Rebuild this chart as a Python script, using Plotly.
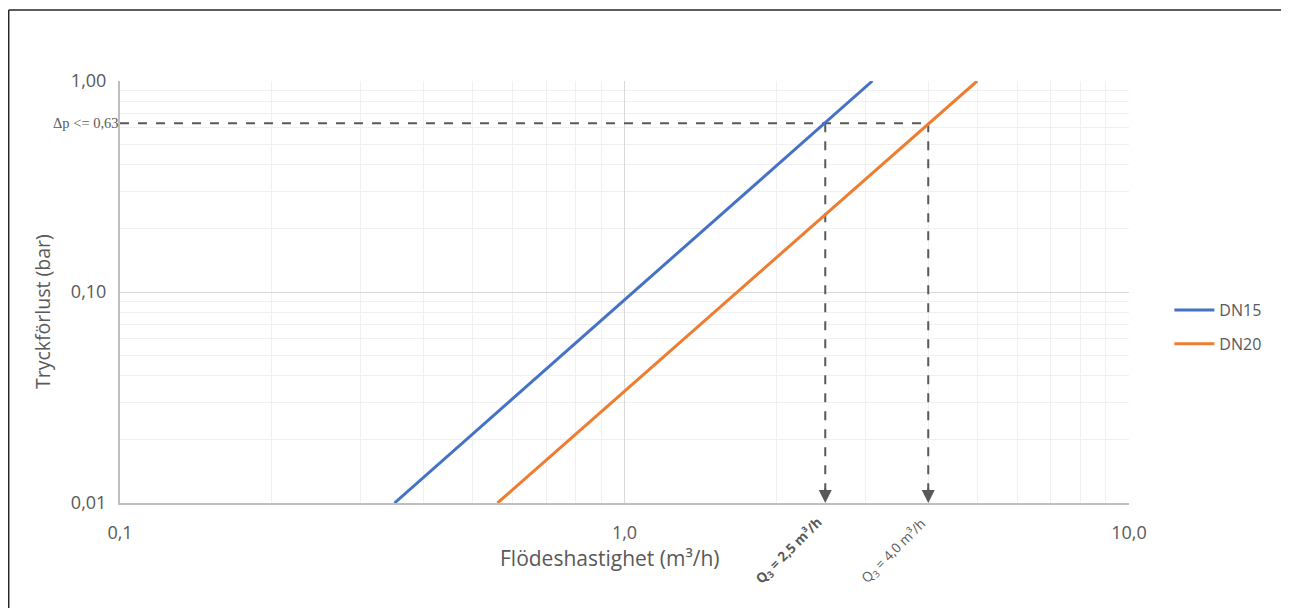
import math
import plotly.graph_objects as go

# Data
dn15_q = [0.35, 2.5, 3.1]
dn15_dp = [0.01, 0.63, 1.0]
dn20_q = [0.56, 4.0, 5.0]
dn20_dp = [0.01, 0.63, 1.0]

q3_values = [2.5, 4.0]
q3_labels = ["<b>Q<sub>3</sub> = 2,5 m³/h</b>", "Q<sub>3</sub> = 4,0 m³/h"]
dp_limit = 0.63
dp_label = "Δp <= 0,63"

x_tickvals = [0.1, 1.0, 10.0]
x_ticktext = ["0,1", "1,0", "10,0"]
y_tickvals = [0.01, 0.1, 1.0]
y_ticktext = ["0,01", "0,10", "1,00"]

x_title = "Flödeshastighet (m³/h)"
y_title = "Tryckförlust (bar)"

grey = "#595959"
font_main = "Open Sans, Noto Sans, sans-serif"

fig = go.Figure()

# reference dashed lines
fig.add_trace(go.Scatter(
    x=[0.1, q3_values[1]], y=[dp_limit, dp_limit], mode="lines",
    line=dict(color=grey, width=2, dash="dash"), showlegend=False, hoverinfo="skip"))
for q in q3_values:
    fig.add_trace(go.Scatter(
        x=[q, q], y=[dp_limit, 0.0115], mode="lines",
        line=dict(color=grey, width=2, dash="dash"), showlegend=False, hoverinfo="skip"))

fig.add_trace(go.Scatter(x=dn15_q, y=dn15_dp, mode="lines", name="DN15", legendgroup="a",
                         line=dict(color="#4472C4", width=3)))
fig.add_trace(go.Scatter(x=dn20_q, y=dn20_dp, mode="lines", name="DN20", legendgroup="b",
                         line=dict(color="#ED7D31", width=3)))

# arrowheads
for q in q3_values:
    fig.add_annotation(x=math.log10(q), y=-2, xref="x", yref="y",
                       ax=0, ay=-16, text="", showarrow=True, arrowhead=2,
                       arrowsize=1.3, arrowwidth=2, arrowcolor=grey, standoff=0)

# rotated Q3 labels
offsets = [(-36, 48), (-34, 48)]
for q, lab, (dx, dy) in zip(q3_values, q3_labels, offsets):
    fig.add_annotation(x=math.log10(q), y=-2, xref="x", yref="y",
                       text=lab, showarrow=False, textangle=-45,
                       xshift=dx, yshift=-dy,
                       font=dict(family=font_main, size=13.5, color=grey))

# Δp label
fig.add_annotation(x=0, xref="paper", y=math.log10(dp_limit), yref="y",
                   text=dp_label, showarrow=False, xanchor="right", xshift=1,
                   font=dict(family="Liberation Serif, DejaVu Serif, serif", size=14.5, color=grey))

# axis titles
fig.add_annotation(x=0.4856, y=-0.130, xref="paper", yref="paper", text=x_title,
                   showarrow=False, xanchor="center", yanchor="middle",
                   font=dict(family=font_main, size=21, color=grey))
fig.add_annotation(x=-0.0773, y=0.4526, xref="paper", yref="paper", text=y_title,
                   showarrow=False, textangle=-90, xanchor="center", yanchor="middle",
                   font=dict(family=font_main, size=19.5, color=grey))

# frame lines (top and left)
fig.add_shape(type="line", xref="paper", yref="paper", x0=-0.1103, x1=1.16, y0=1.1682, y1=1.1682,
              line=dict(color="#262626", width=1.5))
fig.add_shape(type="line", xref="paper", yref="paper", x0=-0.1103, x1=-0.1103, y0=1.1682, y1=-0.26,
              line=dict(color="#262626", width=1.5))

fig.update_layout(
    width=1281, height=600,
    margin=dict(l=112, r=160, t=73, b=105),
    paper_bgcolor="white", plot_bgcolor="white",
    font=dict(family=font_main, color=grey),
    legend=dict(x=1.04, y=0.417, xanchor="left", yanchor="middle",
                font=dict(family=font_main, size=16, color=grey),
                tracegroupgap=10, itemwidth=40),
    xaxis=dict(type="log", range=[-1, 1], tickvals=x_tickvals, ticktext=x_ticktext,
               showgrid=True, gridcolor="#d9d9d9", gridwidth=1,
               minor=dict(showgrid=True, gridcolor="#f0f0f0", gridwidth=1, dtick="D1"),
               showline=True, linecolor="#bfbfbf", linewidth=2, ticks="",
               ticklabelstandoff=12,
               tickfont=dict(size=18, color=grey),
               zeroline=False),
    yaxis=dict(type="log", range=[-2, 0], tickvals=y_tickvals, ticktext=y_ticktext,
               showgrid=True, gridcolor="#d9d9d9", gridwidth=1,
               minor=dict(showgrid=True, gridcolor="#f0f0f0", gridwidth=1, dtick="D1"),
               showline=True, linecolor="#bfbfbf", linewidth=2, ticks="",
               ticklabelstandoff=8,
               tickfont=dict(size=18, color=grey),
               zeroline=False),
)

fig.write_html("out.html")
